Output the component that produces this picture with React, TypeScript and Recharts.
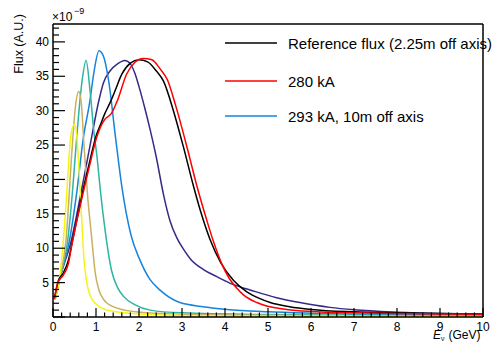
import React from "react";
import { LineChart, Line, XAxis, YAxis } from "recharts";

if (typeof document !== "undefined") document.body.style.margin = "0";

const FONT = "'Liberation Sans', Arial, Helvetica, sans-serif";

// [E (GeV), flux x1e-9]
const refFlux = [
  [0.03, 2.6], [0.12, 5.2], [0.24, 6.4], [0.36, 8.3], [0.45, 11], [0.55, 14], [0.7, 18.5],
  [0.85, 22.5], [1.0, 26.3], [1.1, 27.9], [1.2, 29.5], [1.33, 31.2], [1.45, 33], [1.6, 35.3],
  [1.8, 36.9], [2.0, 37.4], [2.2, 37.1], [2.4, 35.8], [2.57, 34.3], [2.8, 30], [3.03, 24.8],
  [3.26, 19.2], [3.45, 15], [3.65, 11.3], [3.9, 7.9], [4.2, 5.3], [4.5, 3.7], [4.8, 2.7],
  [5.05, 2.1], [5.5, 1.5], [6, 1.1], [7, 0.75], [8, 0.6], [9, 0.5], [10, 0.45],
];
const flux280 = [
  [0.03, 2.6], [0.12, 5.1], [0.24, 6.1], [0.36, 7.8], [0.43, 10.2], [0.51, 12.7], [0.7, 18],
  [0.85, 22], [1.02, 26.2], [1.2, 28.7], [1.36, 29.6], [1.5, 31.5], [1.71, 35.3], [1.9, 37],
  [2.1, 37.6], [2.3, 37.4], [2.5, 36], [2.66, 34.5], [2.85, 30.8], [3.12, 24.6], [3.34, 19.2],
  [3.57, 14.2], [3.73, 11], [3.92, 7.8], [4.1, 5.6], [4.27, 4.2], [4.45, 3.1], [4.74, 2.1],
  [4.97, 1.6], [5.43, 1.1], [6, 0.8], [7, 0.6], [8, 0.5], [9, 0.45], [10, 0.4],
];
const flux293 = [
  [0.05, 2.6], [0.15, 5.4], [0.38, 11], [0.55, 18], [0.7, 25.8], [0.86, 31.5], [0.95, 35.5],
  [1.07, 38.7], [1.18, 37.8], [1.29, 34.5], [1.46, 25.8], [1.6, 19], [1.81, 12], [2.02, 8.3],
  [2.25, 5.5], [2.49, 3.9], [2.95, 2.1], [3.5, 1.5], [4.04, 1.1], [5, 0.75], [6, 0.55],
  [8, 0.35], [10, 0.25],
];
const fluxIndigo = [
  [0.05, 2.6], [0.15, 5.4], [0.42, 11], [0.65, 18], [0.9, 26.2], [1.05, 31], [1.17, 34],
  [1.33, 35.8], [1.5, 36.8], [1.67, 37.3], [1.8, 36.8], [1.9, 35.5], [2.0, 33.5], [2.13, 30.5],
  [2.26, 27.2], [2.4, 23.3], [2.57, 17.8], [2.72, 14], [2.88, 11.5], [3.03, 9.9], [3.2, 8.4],
  [3.5, 6.9], [3.8, 5.9], [4.2, 4.7], [4.6, 3.9], [5.2, 2.8], [5.74, 2.1], [6.44, 1.4],
  [7, 1.05], [8, 0.7], [9, 0.5], [10, 0.4],
];
const fluxTeal = [
  [0.05, 2.6], [0.15, 5.4], [0.34, 11], [0.45, 18], [0.55, 26], [0.67, 34], [0.77, 37.3],
  [0.86, 33], [0.95, 27], [1.02, 23.5], [1.1, 18.5], [1.21, 12.7], [1.36, 6.8], [1.5, 4.3],
  [1.64, 3.0], [1.9, 1.8], [2.26, 1.0], [3, 0.6], [5, 0.35], [10, 0.15],
];
const fluxTan = [
  [0.05, 2.6], [0.15, 5.4], [0.3, 11], [0.45, 25], [0.52, 30.5], [0.6, 32.8], [0.66, 31],
  [0.72, 25], [0.8, 18], [0.9, 11.5], [0.98, 6.5], [1.07, 3.9], [1.17, 2.6], [1.4, 1.5],
  [1.87, 0.8], [3, 0.4], [5, 0.25], [10, 0.1],
];
const fluxYellow = [
  [0.05, 2.6], [0.15, 5.5], [0.24, 11], [0.32, 18], [0.4, 25.5], [0.45, 27.5], [0.5, 28],
  [0.55, 26.5], [0.6, 22], [0.67, 14], [0.72, 8.5], [0.78, 5.2], [0.86, 3.2], [1.0, 1.9],
  [1.33, 0.9], [2, 0.45], [4, 0.15], [10, 0.05],
];

const xMajor = [0, 1, 2, 3, 4, 5, 6, 7, 8, 9, 10];
const yMajor = [5, 10, 15, 20, 25, 30, 35, 40];
const legendLabels = ["Reference flux (2.25m off axis)", "280 kA", "293 kA, 10m off axis"];

const toRows = (pts: number[][]) => pts.map(([e, f]) => ({ e, f }));

const xTicks: number[] = [];
for (let i = 0; i <= 50; i++) xTicks.push(Math.round(i * 2) / 10);
const yTicks: number[] = [];
for (let i = 0; i <= 42; i++) yTicks.push(i);

const XTick = (props: any) => {
  const { x, y, payload } = props;
  const major = xMajor.includes(payload.value);
  return (
    <g>
      <line x1={x} x2={x} y1={y} y2={y - (major ? 9 : 4.5)} stroke="#000" strokeWidth={1.2} />
      {major && (
        <text x={x} y={y + 14} textAnchor="middle" fontSize={12} fontFamily={FONT} fill="#000">
          {payload.value}
        </text>
      )}
    </g>
  );
};

const YTick = (props: any) => {
  const { x, y, payload } = props;
  const major = payload.value % 5 === 0;
  return (
    <g>
      <line x1={x} x2={x + (major ? 12 : 6)} y1={y} y2={y} stroke="#000" strokeWidth={1.2} />
      {major && yMajor.includes(payload.value) && (
        <text x={x - 4} y={y + 4} textAnchor="end" fontSize={12} fontFamily={FONT} fill="#000">
          {payload.value}
        </text>
      )}
    </g>
  );
};

const series = [
  { key: "indigo", data: fluxIndigo, color: "#352a87" },
  { key: "blue", data: flux293, color: "#1584de" },
  { key: "teal", data: fluxTeal, color: "#2cb5a2" },
  { key: "tan", data: fluxTan, color: "#c9b060" },
  { key: "yellow", data: fluxYellow, color: "#f5f514" },
  { key: "ref", data: refFlux, color: "#000000" },
  { key: "280", data: flux280, color: "#ff0000" },
];

const legendColors = ["#000000", "#ff0000", "#1584de"];

export default function App() {
  return (
    <LineChart width={499} height={342} margin={{ top: 23, right: 15, bottom: 24, left: 52 }}>
      <XAxis
        type="number"
        dataKey="e"
        domain={[0, 10]}
        ticks={xTicks}
        interval={0}
        height={1}
        tickSize={0}
        tickMargin={0}
        tickLine={false}
        tick={<XTick />}
        axisLine={{ stroke: "#000", strokeWidth: 1.5 }}
        allowDataOverflow
      />
      <XAxis
        xAxisId="top"
        orientation="top"
        type="number"
        domain={[0, 10]}
        height={1}
        tick={false}
        tickLine={false}
        axisLine={{ stroke: "#000", strokeWidth: 1.5 }}
      />
      <YAxis
        type="number"
        domain={[0, 42.6]}
        ticks={yTicks}
        interval={0}
        width={1}
        tickSize={0}
        tickMargin={0}
        tickLine={false}
        tick={<YTick />}
        axisLine={{ stroke: "#000", strokeWidth: 1.5 }}
        allowDataOverflow
      />
      <YAxis
        yAxisId="right"
        orientation="right"
        type="number"
        domain={[0, 42.6]}
        width={1}
        tick={false}
        tickLine={false}
        axisLine={{ stroke: "#000", strokeWidth: 1.5 }}
      />
      {series.map((s) => (
        <Line
          key={s.key}
          data={toRows(s.data)}
          dataKey="f"
          type="monotone"
          stroke={s.color}
          strokeWidth={1.5}
          dot={false}
          isAnimationActive={false}
        />
      ))}
      <g fontFamily={FONT} fill="#000">
        <text transform="rotate(-90)" x={-14} y={23} textAnchor="end" fontSize={12.5}>
          Flux (A.U.)
        </text>
        <text x={52} y={21} fontSize={12}>×10</text>
        <text x={74} y={14} fontSize={9}>−9</text>
        <text x={433} y={339} fontSize={12}>
          <tspan fontStyle="italic">E</tspan>
          <tspan dy={2} fontSize={7}>ν</tspan>
          <tspan dy={-2} dx={4}>(GeV)</tspan>
        </text>
        {legendLabels.map((label, i) => {
          const ly = [43, 81, 116][i];
          return (
            <g key={label}>
              <line x1={225} x2={277} y1={ly} y2={ly} stroke={legendColors[i]} strokeWidth={1.5} />
              <text x={288} y={ly + 5.5} fontSize={15}>
                {label}
              </text>
            </g>
          );
        })}
      </g>
    </LineChart>
  );
}
